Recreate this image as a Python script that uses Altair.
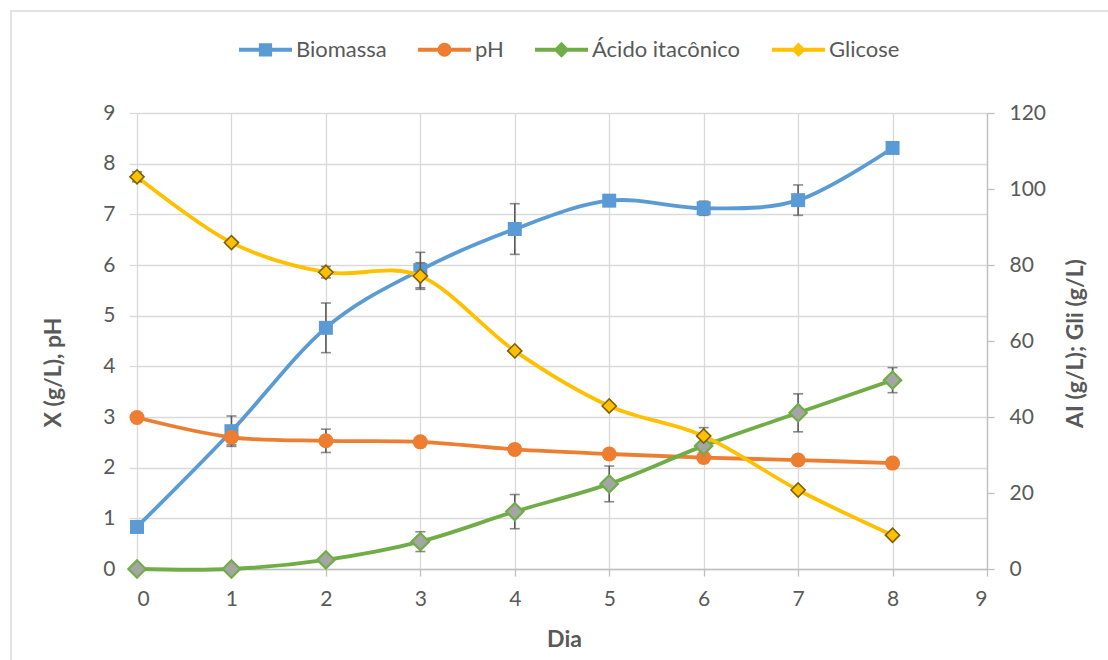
import altair as alt
import pandas as pd

# Fermentation time course: day, measured values and standard deviations
dias = [0, 1, 2, 3, 4, 5, 6, 7, 8]

biomassa = [0.83, 2.72, 4.76, 5.90, 6.71, 7.27, 7.12, 7.28, 8.31]
biomassa_dp = [0, 0.30, 0.49, 0.35, 0.50, 0, 0.14, 0.30, 0]

ph = [2.99, 2.60, 2.53, 2.51, 2.36, 2.27, 2.20, 2.15, 2.09]
ph_dp = [0, 0.15, 0.23, 0, 0, 0, 0.10, 0, 0]

acido = [0.0, 0.0, 2.4, 7.2, 15.1, 22.4, 32.4, 41.1, 49.7]
acido_dp = [0, 0, 0, 2.6, 4.5, 4.7, 0, 5.0, 3.3]

glicose = [103.2, 85.9, 78.1, 77.1, 57.4, 42.9, 35.0, 20.8, 8.9]
glicose_dp = [1.3, 0, 1.5, 3.5, 0, 0, 2.2, 0, 0]

series = ["Biomassa", "pH", "Ácido itacônico", "Glicose"]
cores = ["#5B9BD5", "#ED7D31", "#70AD47", "#FFC000"]

x_ticks = list(range(10))
left_ticks = list(range(10))
right_ticks = [0, 20, 40, 60, 80, 100, 120]

FONT = "Lato"
TXT = "#595959"
GRID = "#D9D9D9"
AXIS = "#BFBFBF"


def tabela(nome, valores, desvios):
    return pd.DataFrame({"Dia": dias, "valor": valores, "dp": desvios, "serie": nome})


esq = pd.concat([tabela("Biomassa", biomassa, biomassa_dp), tabela("pH", ph, ph_dp)])
dir_ = pd.concat([tabela("Ácido itacônico", acido, acido_dp), tabela("Glicose", glicose, glicose_dp)])

x_scale = alt.Scale(domain=[0, 9], nice=False)
x_axis = alt.Axis(
    values=x_ticks, format="d", grid=True, gridColor=GRID, gridWidth=1.3,
    domainColor=AXIS, domainWidth=1.3, tickColor=AXIS, tickSize=7, tickWidth=1.3,
    labelFont=FONT, labelFontSize=21, labelColor=TXT, labelPadding=12,
    title="Dia", titleFont=FONT, titleFontSize=23, titleFontWeight="bold",
    titleColor=TXT, titleX=427, titleY=70, titleAlign="center", titleBaseline="middle",
)
X = alt.X("Dia:Q", scale=x_scale, axis=x_axis)

left_scale = alt.Scale(domain=[0, 9], nice=False)
right_scale = alt.Scale(domain=[0, 120], nice=False)

left_axis = alt.Axis(
    orient="left", values=left_ticks, grid=True, gridColor=GRID, gridWidth=1.3,
    domain=False, tickColor=GRID, tickSize=8, tickWidth=1.3,
    labelFont=FONT, labelFontSize=21, labelColor=TXT, labelPadding=14,
    title="X (g/L), pH", titleFont=FONT, titleFontSize=23, titleFontWeight="bold",
    titleColor=TXT, titleAngle=270, titleX=-84, titleY=259,
    titleAlign="center", titleBaseline="middle",
)
right_axis = alt.Axis(
    orient="right", values=right_ticks, grid=False,
    domainColor=AXIS, domainWidth=1.3, tickColor=AXIS, tickSize=7, tickWidth=1.3,
    labelFont=FONT, labelFontSize=21, labelColor=TXT, labelPadding=15,
    title="AI (g/L); Gli (g/L)", titleFont=FONT, titleFontSize=23, titleFontWeight="bold",
    titleColor=TXT, titleAngle=270, titleX=88, titleY=230,
    titleAlign="center", titleBaseline="middle",
)

# Legend symbols: a line segment with the series marker on top
linha = "M-1,-0.075H1V0.075H-1Z"
circulo = (
    "M0.265,0L0.245,0.101L0.187,0.187L0.101,0.245L0,0.265L-0.101,0.245L-0.187,0.187"
    "L-0.245,0.101L-0.265,0L-0.245,-0.101L-0.187,-0.187L-0.101,-0.245L0,-0.265"
    "L0.101,-0.245L0.187,-0.187L0.245,-0.101Z"
)
legend_paths = [
    linha + "M-0.25,-0.25H0.25V0.25H-0.25Z",
    linha + circulo,
    linha + "M-0.3,0L0,-0.3L0.3,0L0,0.3Z",
    linha + "M-0.27,0L0,-0.27L0.27,0L0,0.27Z",
]

legend = alt.Legend(
    title=None, orient="none", direction="horizontal", columns=4,
    legendX=102, legendY=-90, symbolSize=2809, symbolStrokeWidth=0, symbolOpacity=1,
    labelFont=FONT, labelFontSize=22, labelColor=TXT, labelOffset=4,
    columnPadding=31, labelLimit=400,
)
COLOR = alt.Color("serie:N", scale=alt.Scale(domain=series, range=cores), legend=legend)


def grupo(df, scale, axis, estilos, extra_front=(), extra_back=()):
    base = alt.Chart(df)
    Y = lambda campo: alt.Y(campo, scale=scale, axis=axis)
    linhas = base.mark_line(interpolate="cardinal", strokeWidth=3.8).encode(
        x=X, y=Y("valor:Q"), color=COLOR
    )
    erros = base.transform_filter("datum.dp > 0").transform_calculate(
        lo="datum.valor - datum.dp", hi="datum.valor + datum.dp"
    )
    hastes = erros.mark_rule(color="#595959", strokeWidth=1.6).encode(
        x=X, y=Y("lo:Q"), y2="hi:Q"
    )
    cap_lo = erros.mark_tick(color="#595959", orient="horizontal", size=10, thickness=1.6).encode(
        x=X, y=Y("lo:Q")
    )
    cap_hi = erros.mark_tick(color="#595959", orient="horizontal", size=10, thickness=1.6).encode(
        x=X, y=Y("hi:Q")
    )
    pontos = [
        base.transform_filter(alt.datum.serie == nome)
        .mark_point(filled=True, opacity=1, **kw)
        .encode(x=X, y=Y("valor:Q"))
        for nome, kw in estilos
    ]
    partes = list(extra_back) + [linhas, hastes, cap_lo, cap_hi] + pontos + list(extra_front)
    return alt.layer(*partes)


estilos_esq = [
    ("Biomassa", dict(shape="square", size=196, fill="#5B9BD5", strokeWidth=0)),
    ("pH", dict(shape="circle", size=225, fill="#ED7D31", strokeWidth=0)),
]
estilos_dir = [
    ("Ácido itacônico", dict(shape="diamond", size=300, fill="#A5A5A5", stroke="#70AD47", strokeWidth=2.2)),
    ("Glicose", dict(shape="diamond", size=200, fill="#FFC000", stroke="#7F6000", strokeWidth=1.6)),
]

# Empty layer that only carries the combined colour/shape legend
legenda = (
    alt.Chart(pd.DataFrame({"serie": series, "Dia": [0] * 4, "valor": [0] * 4}))
    .transform_filter("datum.valor > 1")
    .mark_point(filled=True, opacity=1, size=2809, strokeWidth=0)
    .encode(
        x=X,
        y=alt.Y("valor:Q", scale=left_scale, axis=left_axis),
        color=COLOR,
        shape=alt.Shape("serie:N", scale=alt.Scale(domain=series, range=legend_paths), legend=legend),
    )
)

# Outer frame of the chart area
moldura = alt.Chart(pd.DataFrame({"k": [0]})).mark_rect(
    fill="white", fillOpacity=0, stroke=GRID, strokeWidth=1.5
).encode(x=alt.value(-126), x2=alt.value(1300), y=alt.value(-102), y2=alt.value(800))

esquerda = grupo(esq, left_scale, left_axis, estilos_esq, extra_back=[moldura], extra_front=[legenda])
direita = grupo(dir_, right_scale, right_axis, estilos_dir)

chart = (
    alt.layer(esquerda, direita)
    .resolve_scale(y="independent")
    .properties(
        width=850, height=456,
        autosize=alt.AutoSizeParams(type="none"),
        padding={"left": 137, "top": 113, "right": 121, "bottom": 91},
        background="white",
    )
    .configure_view(stroke=None)
)

chart.save("out.html", embed_options={"renderer": "svg", "actions": False})
